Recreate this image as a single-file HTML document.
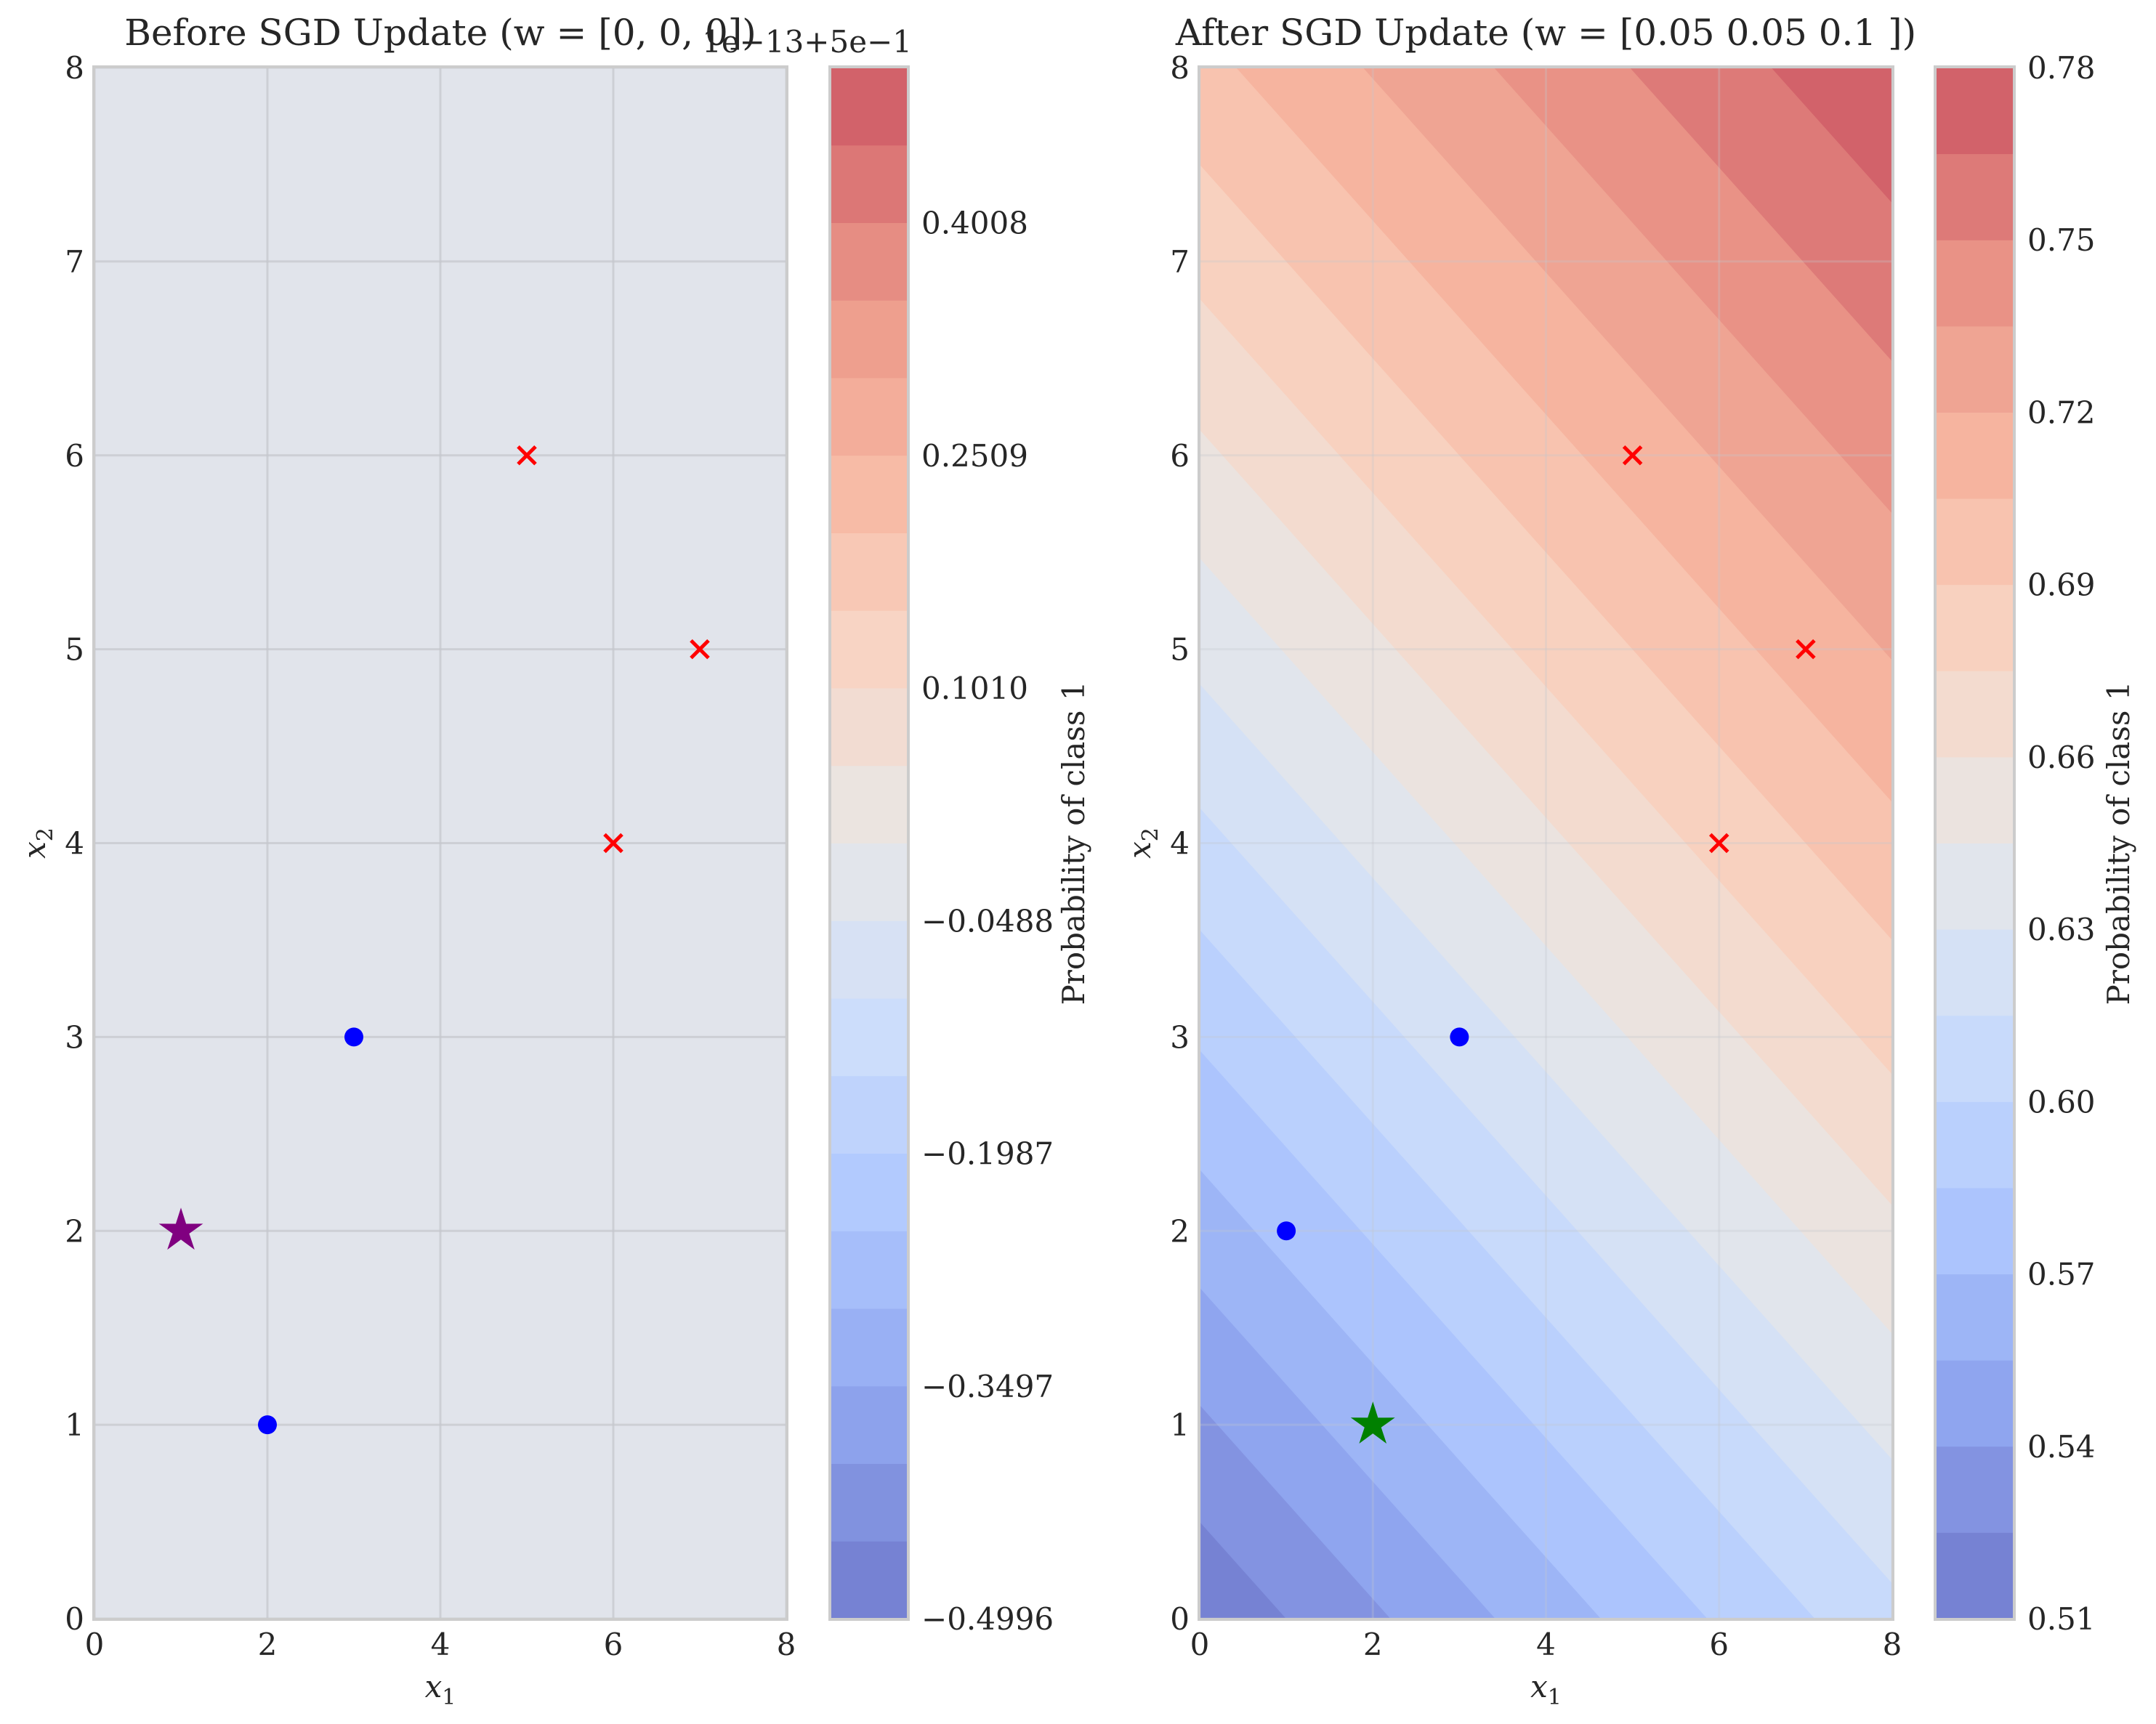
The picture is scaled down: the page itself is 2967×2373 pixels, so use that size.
<!DOCTYPE html>
<html><head><meta charset="utf-8"><style>
html,body{margin:0;padding:0;background:#fff;overflow:hidden;width:2967px;height:2373px;}
svg{display:block;font-family:"DejaVu Serif","Liberation Serif",serif;}
</style></head><body>
<svg id="fig" width="2967" height="2373" viewBox="0 0 2967 2373" xmlns="http://www.w3.org/2000/svg"></svg>
<script>
// ---- data ----
const leftBlueX = [2, 3];
const leftBlueY = [1, 3];
const redX = [5, 7, 6];
const redY = [6, 5, 4];
const leftStar = [1, 2];
const rightBlueX = [1, 3];
const rightBlueY = [2, 3];
const rightStar = [2, 1];
const weights = [0.05, 0.05, 0.1]; // bias, w1, w2
const rightLevels = [0.51,0.525,0.54,0.555,0.57,0.585,0.60,0.615,0.63,0.645,0.66,0.675,0.69,0.705,0.72,0.735,0.75,0.765,0.78];
const rightTickLabels = ["0.51","0.54","0.57","0.60","0.63","0.66","0.69","0.72","0.75","0.78"];
const leftTickLabels = ["\u22120.4996","\u22120.3497","\u22120.1987","\u22120.0488","0.1010","0.2509","0.4008"];
const leftBandCount = 20;
const axisTicks = [0,1,2,3,4,5,6,7,8];
const xTicks = [0,2,4,6,8];

const NS = "http://www.w3.org/2000/svg";
const svg = document.getElementById('fig');
function mk(tag, attrs, parent){const e=document.createElementNS(NS,tag);for(const k in attrs)e.setAttribute(k,attrs[k]);(parent||svg).appendChild(e);return e;}

const anchors=[[0,59,76,192],[0.125,98,130,234],[0.25,141,176,254],[0.375,184,208,249],[0.5,221,221,221],[0.625,245,196,173],[0.75,244,154,123],[0.875,225,104,84],[1,190,30,42]];
function coolwarm(t){for(let i=0;i<anchors.length-1;i++){const a=anchors[i],b=anchors[i+1];if(t<=b[0]){const f=(t-a[0])/(b[0]-a[0]);const al=0.7;const c=[1,2,3].map(j=>Math.round((a[j]+(b[j]-a[j])*f)*al+255*(1-al)));return `rgb(${c[0]},${c[1]},${c[2]})`;}}return 'rgb(209,97,106)';}

const Y0=93, Y1=2228;
function makeAxes(x0,x1){return {x:v=>x0+(v/8)*(x1-x0), y:v=>Y1-(v/8)*(Y1-Y0), x0, x1};}
const L=makeAxes(130,1082), R=makeAxes(1651,2604);

function frame(ax,name){
  const r=mk('rect',{x:ax.x0-1,y:Y0-1,width:ax.x1-ax.x0+2,height:Y1-Y0+2,fill:'none',stroke:'#cccccc','stroke-width':4});
  
  
}
function grid(ax,name,op){
  const g=mk('g',{});
  
  
  xTicks.forEach(v=>mk('line',{x1:ax.x(v),x2:ax.x(v),y1:Y0,y2:Y1,stroke:'#c4c6cc','stroke-width':3,'stroke-opacity':op},g));
  axisTicks.forEach(v=>mk('line',{x1:ax.x0,x2:ax.x1,y1:ax.y(v),y2:ax.y(v),stroke:'#c4c6cc','stroke-width':3,'stroke-opacity':op},g));
}
function ticks(ax,name){
  const g=mk('g',{'font-size':42,fill:'#262626'});
  
  
  xTicks.forEach(v=>{const t=mk('text',{x:ax.x(v),y:Y1+50,'text-anchor':'middle'},g);t.textContent=v;});
  axisTicks.forEach(v=>{const t=mk('text',{x:ax.x0-14,y:ax.y(v)+15,'text-anchor':'end'},g);t.textContent=v;});
  const xl=mk('text',{x:(ax.x0+ax.x1)/2,y:2336,'text-anchor':'middle','font-size':42,fill:'#262626'});
  
  
  xl.innerHTML='<tspan font-style="italic">x</tspan><tspan font-size="30" dy="10">1</tspan>';
  const yl=mk('text',{x:0,y:0,'text-anchor':'middle','font-size':42,fill:'#262626',transform:`translate(${ax.x0-68},${(Y0+Y1)/2}) rotate(-90)`});
  
  
  yl.innerHTML='<tspan font-style="italic">x</tspan><tspan font-size="30" dy="10">2</tspan>';
}
function points(ax,bx,by,star,starColor,name){
  const g=mk('g',{});
  
  
  bx.forEach((v,i)=>{const c=mk('circle',{cx:ax.x(v),cy:ax.y(by[i]),r:13,fill:'#0000ff'},g);
    
    });
  redX.forEach((v,i)=>{const cx=ax.x(v),cy=ax.y(redY[i]),s=12;
    const p=mk('path',{d:`M${cx-s},${cy-s}L${cx+s},${cy+s}M${cx-s},${cy+s}L${cx+s},${cy-s}`,stroke:'#ff0000','stroke-width':5},g);
    
    });
  const cx=ax.x(star[0]),cy=ax.y(star[1]);let d='';
  for(let k=0;k<10;k++){const r=k%2?12:32;const a=-Math.PI/2+k*Math.PI/5;d+=(k?'L':'M')+(cx+r*Math.cos(a)).toFixed(1)+','+(cy+r*Math.sin(a)).toFixed(1);}
  const st=mk('path',{d:d+'Z',fill:starColor},g);
  
  
}
function colorbar(cx0,cx1,n,name){
  const g=mk('g',{});
  
  
  const h=(Y1-Y0)/n;
  for(let i=0;i<n;i++){mk('rect',{x:cx0,y:Y1-(i+1)*h,width:cx1-cx0,height:h+0.5,fill:coolwarm(i/(n-1))},g);}
  mk('rect',{x:cx0-1,y:Y0-1,width:cx1-cx0+2,height:Y1-Y0+2,fill:'none',stroke:'#cccccc','stroke-width':4},g);
  return h;
}
function cbLabel(x,name){
  const t=mk('text',{x:0,y:0,'text-anchor':'middle','font-size':42,fill:'#262626',transform:`translate(${x},${(Y0+Y1)/2}) rotate(-90)`});
  
  
  t.textContent='Probability of class 1';
}

// ---- Left panel ----
const lbg=mk('rect',{x:L.x0,y:Y0,width:L.x1-L.x0,height:Y1-Y0,fill:'#e1e4eb'});


grid(L,'left',0.7);frame(L,'left');ticks(L,'left');
points(L,leftBlueX,leftBlueY,leftStar,'#800080','left');
const lt=mk('text',{x:(L.x0+L.x1)/2,y:62,'text-anchor':'middle','font-size':50,fill:'#262626'});


lt.textContent='Before SGD Update (w = [0, 0, 0])';
const lh=colorbar(1143,1249,leftBandCount,'left');
const ltg=mk('g',{'font-size':42,fill:'#262626'});


leftTickLabels.forEach((s,i)=>{const t=mk('text',{x:1268,y:Y1-i*3*lh+15},ltg);t.textContent=s;});
const off=mk('text',{x:1255,y:72,'text-anchor':'end','font-size':42,fill:'#262626'});


off.textContent='1e\u221213+5e\u22121';
cbLabel(1492,'left');

// ---- Right panel ----
const clip=mk('clipPath',{id:'rclip'});
mk('rect',{x:R.x0,y:Y0,width:R.x1-R.x0,height:Y1-Y0},clip);
const cg=mk('g',{'clip-path':'url(#rclip)'});


function logit(p){return Math.log(p/(1-p));}
function lineY(l,x1){return (l-weights[0]-weights[1]*x1)/weights[2];}
const nb=rightLevels.length-1;
for(let i=0;i<nb;i++){
  const lo=i===0?-20:logit(rightLevels[i]), hi=i===nb-1?20:logit(rightLevels[i+1]);
  const xa=-2,xb=10;
  const pts=[[xa,lineY(lo,xa)],[xb,lineY(lo,xb)],[xb,lineY(hi,xb)],[xa,lineY(hi,xa)]];
  const b=mk('polygon',{points:pts.map(p=>R.x(p[0]).toFixed(1)+','+R.y(p[1]).toFixed(1)).join(' '),fill:coolwarm(i/(nb-1)),stroke:coolwarm(i/(nb-1)),'stroke-width':0.8},cg);
  
  
}
grid(R,'right',0.3);frame(R,'right');ticks(R,'right');
points(R,rightBlueX,rightBlueY,rightStar,'#008000','right');
const rt=mk('text',{x:(R.x0+R.x1)/2,y:62,'text-anchor':'middle','font-size':50,fill:'#262626'});


rt.textContent='After SGD Update (w = [0.05 0.05 0.1 ])';
const rh=colorbar(2664,2771,nb,'right');
const rtg=mk('g',{'font-size':42,fill:'#262626'});


rightTickLabels.forEach((s,i)=>{const t=mk('text',{x:2790,y:Y1-i*2*rh+15},rtg);t.textContent=s;});
cbLabel(2930,'right');
</script>
</body></html>
